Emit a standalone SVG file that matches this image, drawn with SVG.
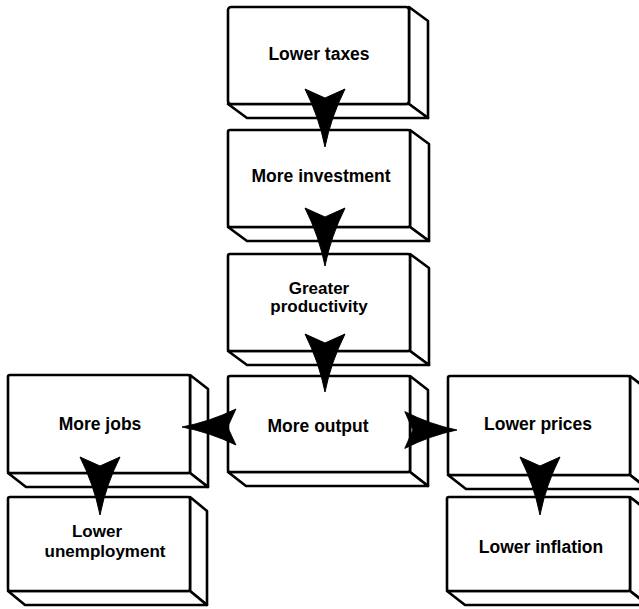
<svg xmlns="http://www.w3.org/2000/svg" width="639" height="609" viewBox="0 0 639 609">
<style>
.face{fill:#fff;stroke:#000;stroke-width:2.6;stroke-linejoin:round}
.lbl{font-family:"Liberation Sans",Arial,sans-serif;font-weight:bold;font-size:17.5px;fill:#000;text-anchor:middle}
.sm{font-size:17px}
.arr{fill:#000;stroke:#000;stroke-width:1;stroke-linejoin:round}
</style>
<defs>
<path id="dart" d="M0,0 Q6,-30 20,-58 L0,-49 L-20,-58 Q-6,-30 0,0 Z"/>
</defs>
<rect width="639" height="609" fill="#fff"/>

<g id="lower-taxes">
<polygon class="face" points="409,7 428,21 428,118 409,104"/>
<polygon class="face" points="228,104 409,104 428,118 247,118"/>
<rect class="face" x="228" y="7" width="181" height="97" rx="3"/>
<text class="lbl" x="319" y="60">Lower taxes</text>
</g>

<g id="more-investment">
<polygon class="face" points="410,130 429,144 429,241 410,227"/>
<polygon class="face" points="228,227 410,227 429,241 247,241"/>
<rect class="face" x="228" y="130" width="182" height="97" rx="2"/>
<text class="lbl" x="321" y="182">More investment</text>
</g>

<g id="greater-productivity">
<polygon class="face" points="410,254 429,268 429,365 410,351"/>
<polygon class="face" points="228,351 410,351 429,365 247,365"/>
<rect class="face" x="228" y="254" width="182" height="97" rx="2"/>
<text class="lbl sm" x="319" y="294">Greater</text>
<text class="lbl sm" x="319" y="312">productivity</text>
</g>

<g id="more-output">
<polygon class="face" points="410,376 428,390 428,486 410,472"/>
<polygon class="face" points="228,472 410,472 428,486 246,486"/>
<rect class="face" x="228" y="376" width="182" height="96" rx="2"/>
<text class="lbl" x="318" y="432">More output</text>
</g>

<g id="more-jobs">
<polygon class="face" points="190,375 208,389 208,487 190,473"/>
<polygon class="face" points="8,473 190,473 208,487 26,487"/>
<rect class="face" x="8" y="375" width="182" height="98" rx="2"/>
<text class="lbl" x="100" y="430">More jobs</text>
</g>

<g id="lower-unemployment">
<polygon class="face" points="190,497 207,511 207,605 190,591"/>
<polygon class="face" points="8,591 190,591 207,605 25,605"/>
<rect class="face" x="8" y="497" width="182" height="94" rx="2"/>
<text class="lbl sm" x="97" y="537">Lower</text>
<text class="lbl sm" x="105" y="557">unemployment</text>
</g>

<g id="lower-prices">
<polygon class="face" points="630,376 648,390 648,489 630,475"/>
<polygon class="face" points="448,475 630,475 648,489 466,489"/>
<rect class="face" x="448" y="376" width="182" height="99" rx="2"/>
<text class="lbl" x="538" y="430">Lower prices</text>
</g>

<g id="lower-inflation">
<polygon class="face" points="630,497 648,511 648,605 630,591"/>
<polygon class="face" points="447,591 630,591 648,605 465,605"/>
<rect class="face" x="447" y="497" width="183" height="94" rx="2"/>
<text class="lbl" x="541" y="553">Lower inflation</text>
</g>

<g id="connectors">
<use href="#dart" class="arr" transform="translate(325,147)"/>
<use href="#dart" class="arr" transform="translate(325,266)"/>
<use href="#dart" class="arr" transform="translate(325,392)"/>
<use href="#dart" class="arr" transform="translate(100,515)"/>
<use href="#dart" class="arr" transform="translate(540,515)"/>
<use href="#dart" class="arr" transform="translate(182,427) rotate(90) scale(0.9,0.93)"/>
<use href="#dart" class="arr" transform="translate(457,430) rotate(-90) scale(0.92,0.9)"/>
</g>
</svg>
